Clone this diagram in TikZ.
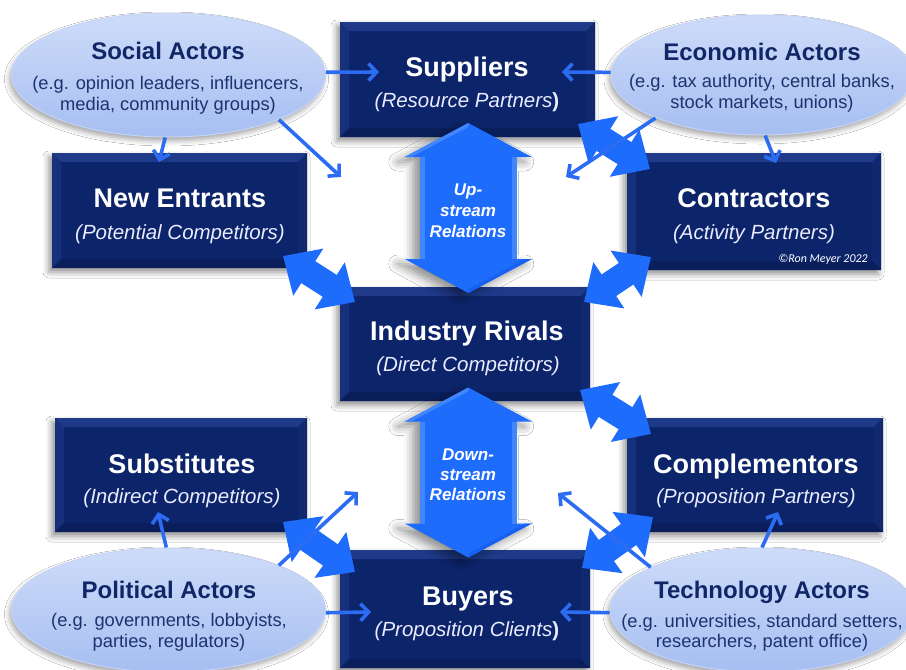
\documentclass[tikz,border=0pt]{standalone}
\usepackage{fontspec}
\setmainfont{Liberation Sans}
\newfontfamily\calibfont{Carlito}
\usetikzlibrary{shapes.geometric,arrows.meta,shadows.blur}

\definecolor{navy}{RGB}{12,36,106}
\definecolor{bevtop}{RGB}{30,58,136}
\definecolor{bevleft}{RGB}{22,48,124}
\definecolor{bevright}{RGB}{15,40,110}
\definecolor{bevbot}{RGB}{10,30,92}
\definecolor{elltop}{RGB}{206,220,249}
\definecolor{ellbot}{RGB}{166,190,241}
\definecolor{ellrim}{RGB}{196,212,246}
\definecolor{elltext}{RGB}{16,38,102}
\definecolor{ellsubtext}{RGB}{30,50,112}
\definecolor{linkblue}{RGB}{44,108,242}
\definecolor{fatblue}{RGB}{30,108,252}
\definecolor{fatlight}{RGB}{66,134,255}
\definecolor{fatdark}{RGB}{24,96,240}

\tikzset{
  actorbox/.style={rectangle, draw=none, fill=navy, inner sep=0pt,
    blur shadow={shadow xshift=-3pt, shadow yshift=-4pt, shadow blur radius=6pt, shadow opacity=45},
    path picture={
      \fill[bevtop] (path picture bounding box.north west) -- (path picture bounding box.north east)
        -- ([shift={(-9pt,-9pt)}]path picture bounding box.north east)
        -- ([shift={(9pt,-9pt)}]path picture bounding box.north west) -- cycle;
      \fill[bevleft] (path picture bounding box.north west) -- ([shift={(9pt,-9pt)}]path picture bounding box.north west)
        -- ([shift={(9pt,9pt)}]path picture bounding box.south west)
        -- (path picture bounding box.south west) -- cycle;
      \fill[bevright] (path picture bounding box.north east) -- ([shift={(-9pt,-9pt)}]path picture bounding box.north east)
        -- ([shift={(-9pt,9pt)}]path picture bounding box.south east)
        -- (path picture bounding box.south east) -- cycle;
      \fill[bevbot] (path picture bounding box.south west) -- ([shift={(9pt,9pt)}]path picture bounding box.south west)
        -- ([shift={(-9pt,9pt)}]path picture bounding box.south east)
        -- (path picture bounding box.south east) -- cycle;
    }},
  actor/.style={ellipse, inner sep=0pt, top color=elltop, bottom color=ellbot,
    draw=ellrim, line width=1pt,
    blur shadow={shadow xshift=-2pt, shadow yshift=-4pt, shadow blur radius=5pt, shadow opacity=35}},
  eltitle/.style={anchor=base, inner sep=0pt, text=elltext, font=\fontsize{24}{28}\selectfont\bfseries},
  elsub/.style={anchor=base, inner sep=0pt, text=ellsubtext, font=\fontsize{18.3}{21}\selectfont},
  bxtitle/.style={anchor=base, inner sep=0pt, text=white, font=\fontsize{27}{32}\selectfont\bfseries},
  bxsub/.style={anchor=base, inner sep=0pt, text=white!92!blue, font=\fontsize{20.5}{24}\selectfont\itshape},
  flowtext/.style={anchor=base, inner sep=0pt, text=white, font=\fontsize{17}{20}\selectfont\bfseries\itshape},
  link/.style={draw=linkblue, line width=3.6pt, -{Straight Barb[length=8pt,width=17pt]}},
  fatlink/.style={draw=fatblue, line width=26pt, {Triangle[width=54pt,length=30pt]}-{Triangle[width=54pt,length=30pt]}},
  flowarrow/.pic={
    \fill[fatblue, blur shadow={shadow xshift=-7pt, shadow yshift=-5pt, shadow blur radius=9pt, shadow opacity=45}]
      (0,-85) -- (63.5,-51) -- (48.3,-51) -- (48.3,51) -- (63.5,51) -- (0,85)
      -- (-63.5,51) -- (-48.3,51) -- (-48.3,-51) -- (-63.5,-51) -- cycle;
    \fill[fatlight] (0,-85) -- (-63.5,-51) -- (-57,-51) -- (0,-81) -- cycle;
    \fill[fatdark] (0,85) -- (63.5,51) -- (57,51) -- (0,81) -- cycle;
    \fill[fatlight] (-48.3,-51) rectangle (-43.5,51);
    \fill[fatlight] (43.5,-51) rectangle (48.3,51);
  }
}

\begin{document}
\begin{tikzpicture}[x=1pt, y=-1pt]
\useasboundingbox (0,0) rectangle (906,670);
\fill[white] (0,0) rectangle (906,670);
\clip (0,0) rectangle (906,670);

% the seven boxes of the industry system
\node[actorbox, minimum width=255pt, minimum height=115pt] (sup) at (467.5,79.5) {};
\node[actorbox, minimum width=255pt, minimum height=115pt] (new) at (179.5,210.5) {};
\node[actorbox, minimum width=254pt, minimum height=117pt] (con) at (754,211.5) {};
\node[actorbox, minimum width=250pt, minimum height=114pt] (riv) at (465,344) {};
\node[actorbox, minimum width=252pt, minimum height=114pt] (sbs) at (181,475) {};
\node[actorbox, minimum width=256pt, minimum height=114pt] (com) at (755,475) {};
\node[actorbox, minimum width=250pt, minimum height=118pt] (buy) at (465,609) {};

% vertical flows between the chain levels
\pic at (468.3,208) {flowarrow};
\pic at (468.3,472.5) {flowarrow};
\node[flowtext] (upA) at (468,195) {Up-};
\node[flowtext] (upB) at (468,216) {stream};
\node[flowtext] (upC) at (468,237) {Relations};
\node[flowtext] (dnA) at (468,460) {Down-};
\node[flowtext] (dnB) at (468,480) {stream};
\node[flowtext] (dnC) at (468,500) {Relations};

% two-way relations between neighbouring boxes
\coordinate (f1a) at (283,256); \coordinate (f1b) at (355,302);
\coordinate (f2a) at (651,257); \coordinate (f2b) at (584,302);
\coordinate (f3a) at (578,124); \coordinate (f3b) at (650,169);
\coordinate (f4a) at (580,390); \coordinate (f4b) at (651,434);
\coordinate (f5a) at (283,522); \coordinate (f5b) at (355,572);
\coordinate (f6a) at (582,568); \coordinate (f6b) at (653,517);
\foreach \a/\b in {f1a/f1b, f2a/f2b, f3a/f3b, f4a/f4b, f5a/f5b, f6a/f6b} {
  \draw[fatlink] (\a) -- (\b);
}

% box labels
\node[bxtitle] (supT) at (467,76) {Suppliers};
\node[bxsub] (supS) at (467,107) {(Resource Partners\textup{\bfseries )}};
\node[bxtitle] (newT) at (180,207) {New Entrants};
\node[bxsub] (newS) at (180,239) {(Potential Competitors)};
\node[bxtitle] (conT) at (754,207) {Contractors};
\node[bxsub] (conS) at (754,239) {(Activity Partners)};
\node[anchor=base east, inner sep=0pt, text=white, font=\calibfont\fontsize{12}{14}\selectfont\itshape] (copy) at (868,262) {©Ron Meyer 2022};
\node[bxtitle] (rivT) at (467,340) {Industry Rivals};
\node[bxsub] (rivS) at (468,371) {(Direct Competitors)};
\node[bxtitle] (sbsT) at (182,473) {Substitutes};
\node[bxsub] (sbsS) at (182,503) {(Indirect Competitors)};
\node[bxtitle] (comT) at (756,473) {Complementors};
\node[bxsub] (comS) at (756,503) {(Proposition Partners)};
\node[bxtitle] (buyT) at (468,605) {Buyers};
\node[bxsub] (buyS) at (467,636) {(Proposition Clients\textup{\bfseries )}};

% environmental actors
\node[actor, minimum width=314pt, minimum height=124pt] (soc) at (168.5,75) {};
\node[actor, minimum width=302pt, minimum height=120pt] (eco) at (762,75) {};
\node[actor, minimum width=314pt, minimum height=124pt] (pol) at (168.5,610) {};
\node[actor, minimum width=304pt, minimum height=124pt] (tec) at (762,610) {};

\node[eltitle] (socT) at (168,59) {Social Actors};
\node[elsub] (socA) at (168,89) {(e.g. opinion leaders, influencers,};
\node[elsub] (socB) at (168,110) {media, community groups)};
\node[eltitle] (ecoT) at (762,60) {Economic Actors};
\node[elsub] (ecoA) at (762,87) {(e.g. tax authority, central banks,};
\node[elsub] (ecoB) at (762,108) {stock markets, unions)};
\node[eltitle] (polT) at (169,598) {Political Actors};
\node[elsub] (polA) at (169,626) {(e.g. governments, lobbyists,};
\node[elsub] (polB) at (169,647) {parties, regulators)};
\node[eltitle] (tecT) at (762,598) {Technology Actors};
\node[elsub] (tecA) at (762,627) {(e.g. universities, standard setters,};
\node[elsub] (tecB) at (762,647) {researchers, patent office)};

% influence of the actors on the industry system
\coordinate (tSocSup) at (379,72);
\coordinate (tSocNew) at (159,162);
\coordinate (tSocRiv) at (341,177);
\coordinate (tEcoSup) at (562,72);
\coordinate (tEcoCon) at (776,163);
\coordinate (tEcoRiv) at (566,177);
\coordinate (tPolSbs) at (158,512);
\coordinate (tPolBuy) at (371,612);
\coordinate (tPolRiv) at (358,492);
\coordinate (tTecBuy) at (560,612);
\coordinate (tTecCom) at (778,512);
\coordinate (tTecRiv) at (558,493);

\draw[link] (soc.1) -- (tSocSup);
\draw[link] (soc.-93) -- (tSocNew);
\draw[link] (soc.-22) -- (tSocRiv);
\draw[link] (eco.179) -- (tEcoSup);
\draw[link] (eco.-87) -- (tEcoCon);
\draw[link] (eco.-158) -- (tEcoRiv);
\draw[link] (pol.92) -- (tPolSbs);
\draw[link] (pol.-1) -- (tPolBuy);
\draw[link] (pol.22) -- (tPolRiv);
\draw[link] (tec.181) -- (tTecBuy);
\draw[link] (tec.90) -- (tTecCom);
\draw[link] (tec.159) -- (tTecRiv);
\end{tikzpicture}
\end{document}
